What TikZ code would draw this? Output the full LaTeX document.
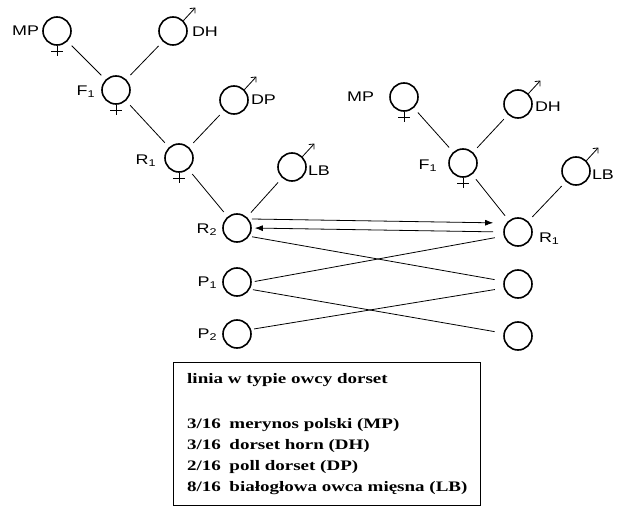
\documentclass[tikz,border=0pt]{standalone}
\usepackage{fontspec}
\setmainfont{Liberation Serif}[FakeStretch=1.31]
\setsansfont{Liberation Sans}[FakeStretch=1.28]
\usetikzlibrary{positioning,arrows.meta}

\begin{document}
\begin{tikzpicture}[x=1pt,y=-1pt,
  sheep/.style={circle,draw,line width=1.6pt,minimum size=28pt,inner sep=0pt},
  lbl/.style={inner sep=0pt,font=\sffamily\fontsize{14}{16}\selectfont},
  link/.style={line width=0.8pt,shorten <=6pt,shorten >=6pt},
  cross/.style={line width=0.8pt,shorten <=3pt,shorten >=9pt},
  ram/.style={line width=0.8pt,-{Straight Barb[length=4pt,width=7pt]}},
  ewe/.style={line width=0.8pt},
  swap/.style={line width=0.8pt,-{Latex[length=8pt,width=6pt]}}]
\useasboundingbox (0,0) rectangle (624,508);
% first line
\node[sheep] (mpA) at (57,31) {};
\node[sheep] (dhA) at (173,31) {};
\node[sheep] (fA) at (116,90) {};
\node[sheep] (dpA) at (234,100) {};
\node[sheep] (rA) at (179,158) {};
\node[sheep] (lbA) at (292,167) {};
\node[sheep] (rtwo) at (237,228) {};
\node[sheep] (pone) at (237,282) {};
\node[sheep] (ptwo) at (237,334) {};
% second line
\node[sheep] (mpB) at (404,97) {};
\node[sheep] (dhB) at (518,104) {};
\node[sheep] (fB) at (463,163) {};
\node[sheep] (lbB) at (576,171) {};
\node[sheep] (rB) at (518,232) {};
\node[sheep] (midB) at (518,284) {};
\node[sheep] (lowB) at (518,336) {};
% sex signs
\foreach \n in {mpA,fA,rA,mpB,fB}
  \draw[ewe] (\n.south) -- ++(0,10) (\n.south) ++(-6,6) -- ++(12,0);
\foreach \n in {dhA,dpA,lbA,dhB,lbB}
  \draw[ram] (\n.45) -- ++(12,-13);
% labels
\node[lbl,left=3pt of mpA] (mpAl) {MP};
\node[lbl,right=4pt of dhA,yshift=-1pt] (dhAl) {DH};
\node[lbl,left=6pt of fA,yshift=-2pt] (fAl) {F\textsubscript{1}};
\node[lbl,right=2pt of dpA] (dpAl) {DP};
\node[lbl,left=8pt of rA,yshift=-3pt] (rAl) {R\textsubscript{1}};
\node[lbl,right=1pt of lbA,yshift=-4pt] (lbAl) {LB};
\node[lbl,left=5pt of rtwo,yshift=-2pt] (rtwol) {R\textsubscript{2}};
\node[lbl,left=5pt of pone,yshift=-1pt] (ponel) {P\textsubscript{1}};
\node[lbl,left=5pt of ptwo,yshift=-1pt] (ptwol) {P\textsubscript{2}};
\node[lbl,left=15pt of mpB] (mpBl) {MP};
\node[lbl,right=2pt of dhB,yshift=-3pt] (dhBl) {DH};
\node[lbl,left=11pt of fB,yshift=-3pt] (fBl) {F\textsubscript{1}};
\node[lbl,right=1pt of lbB,yshift=-4pt] (lbBl) {LB};
\node[lbl,right=6pt of rB,yshift=-7pt] (rBl) {R\textsubscript{1}};
% crosses
\draw[link] (mpA) -- (fA);
\draw[link] (dhA) -- (fA);
\draw[link] (fA) -- (rA);
\draw[link] (dpA) -- (rA);
\draw[link] (rA) -- (rtwo);
\draw[link] (lbA) -- (rtwo);
\draw[link] (mpB) -- (fB);
\draw[link] (dhB) -- (fB);
\draw[link] (fB) -- (rB);
\draw[link] (lbB) -- (rB);
\draw[swap,shorten >=10pt] ([yshift=9pt]rtwo.east) -- ([yshift=9pt]rB.west);
\draw[swap,shorten <=10pt,shorten >=3pt] (rB.west) -- (rtwo.east);
\draw[cross] (rtwo.-34) -- (midB.169);
\draw[cross] (pone.0) -- (rB.196);
\draw[cross] (pone.-29) -- (lowB.169);
\draw[cross] (ptwo.18) -- (midB.196);
% legend
\node[draw,line width=0.8pt,minimum width=307pt,minimum height=143pt,inner sep=0pt] (legendbox) at (326.5,433.5) {};
\node[anchor=base west,inner sep=0pt,font=\bfseries\fontsize{14.5}{21}\selectfont] (legend) at (187,383) {%
\begin{tabular}[t]{@{}l@{\hspace{8.5pt}}l@{}}
\multicolumn{2}{@{}l@{}}{linia w typie owcy dorset}\\[24pt]
3/16 & merynos polski (MP)\\
3/16 & dorset horn (DH)\\
2/16 & poll dorset (DP)\\
8/16 & białogłowa owca mięsna (LB)
\end{tabular}};
\end{tikzpicture}
\end{document}
